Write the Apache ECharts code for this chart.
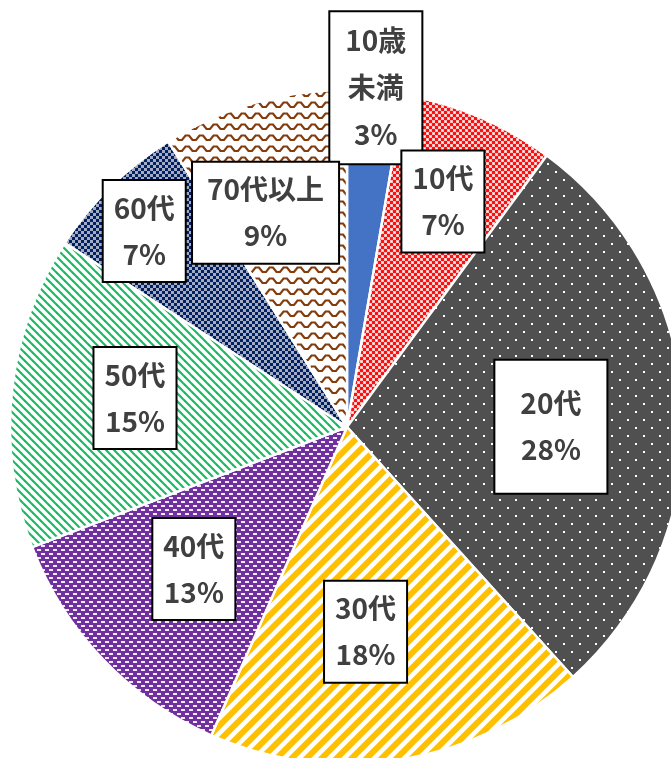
<!DOCTYPE html>
<html><head><meta charset="utf-8">
<script src="https://cdn.jsdelivr.net/npm/echarts@6/dist/echarts.min.js"></script>
<style>html,body{margin:0;padding:0;background:#fff}#c{width:671px;height:758px}</style>
</head><body><div id="c"></div>
<script>
// ---- data ----
const categories = ['10歳未満','10代','20代','30代','40代','50代','60代','70代以上'];
const labelTexts = ['10歳\n未満','10代','20代','30代','40代','50代','60代','70代以上'];
const shares = [2.7, 7.4, 28.2, 18.3, 12.6, 15.0, 6.9, 8.9];

// ---- layout config ----
const CX = 347, CY = 427, R = 337;
const labelK = [1.01, 0.727, 0.605, 0.61, 0.62, 0.635, 0.837, 0.68];
const labelTurn = [0, 0, 2.8, 4, 0.7, 1.7, -1.5, -4.8];
const labelPad = [[5,15],[4,10],[20,25],[4,10],[4,10],[4,10],[4,10],[4,14]];

function tile(w, h, draw){
  const c = document.createElement('canvas'); c.width = w; c.height = h;
  const g = c.getContext('2d'); draw(g, w, h); return c;
}
function diag(g, n, up){
  const e = 4;
  for (const o of [-n, 0, n]) {
    g.beginPath();
    if (up) { g.moveTo(o - e, n + e); g.lineTo(o + n + e, -e); }
    else { g.moveTo(o - e, -e); g.lineTo(o + n + e, n + e); }
    g.stroke();
  }
}
const patterns = [
  '#4472C4',
  tile(6, 6, (g) => { g.fillStyle = '#FF1010'; g.fillRect(0,0,6,6);
    g.fillStyle = '#FFC0C0'; g.fillRect(0,0,3,3); g.fillRect(3,3,3,3);
    g.fillStyle = '#FFFFFF'; g.fillRect(1,1,1,1); g.fillRect(4,4,1,1); }),
  tile(16, 16, (g) => { g.fillStyle = '#505050'; g.fillRect(0,0,16,16);
    g.fillStyle = '#FFFFFF'; g.fillRect(3,3,2,2); g.fillRect(11,11,2,2); }),
  tile(15, 15, (g, w) => { g.fillStyle = '#FFFFFF'; g.fillRect(0,0,w,w);
    g.strokeStyle = '#FFC000'; g.lineWidth = 6; diag(g, w, true); }),
  tile(8, 8, (g) => { g.fillStyle = '#7030A0'; g.fillRect(0,0,8,8);
    g.fillStyle = '#F2EAF8'; g.fillRect(1,1,4,2); g.fillRect(5,5,3,2); g.fillRect(0,5,1,2); }),
  tile(8, 8, (g, w) => { g.fillStyle = '#FFFFFF'; g.fillRect(0,0,w,w);
    g.strokeStyle = '#1DB866'; g.lineWidth = 2.2; diag(g, w, false); }),
  tile(6, 6, (g) => { g.fillStyle = '#002060'; g.fillRect(0,0,6,6);
    g.fillStyle = '#A3ACC4'; g.fillRect(0,0,3,3); g.fillRect(3,3,3,3); }),
  tile(14, 11, (g) => { g.fillStyle = '#FFFFFF'; g.fillRect(0,0,14,11);
    g.strokeStyle = '#843C0C'; g.lineWidth = 2.2;
    g.beginPath(); g.moveTo(-3.5,8); g.lineTo(0,8); g.lineTo(3.5,3.5); g.lineTo(7,3.5); g.lineTo(10.5,8); g.lineTo(14,8); g.lineTo(17.5,3.5); g.stroke(); })
];

const data = categories.map((name, i) => ({
  name: name,
  value: shares[i],
  itemStyle: { color: typeof patterns[i] === 'string' ? patterns[i] : { image: patterns[i], repeat: 'repeat' } },
  label: { padding: labelPad[i], lineHeight: i === 0 ? 47 : 46 }
}));

const chart = echarts.init(document.getElementById('c'), null, { renderer: 'canvas' });
chart.setOption({
  animation: false,
  series: [{
    type: 'pie',
    center: [CX, CY],
    radius: [0, R],
    startAngle: 90,
    clockwise: true,
    avoidLabelOverlap: false,
    data: data,
    itemStyle: { borderColor: '#FFFFFF', borderWidth: 2.5 },
    label: {
      show: true,
      position: 'inside',
      formatter: (p) => labelTexts[p.dataIndex] + '\n' + Math.round(p.percent) + '%',
      fontFamily: '"Noto Sans CJK JP", sans-serif',
      fontWeight: 'bold',
      fontSize: 28,
      color: '#404040',
      backgroundColor: '#FFFFFF',
      borderColor: '#000000',
      borderWidth: 2,
      align: 'center'
    },
    labelLine: { show: false },
    labelLayout: function (p) {
      const i = p.dataIndex;
      const lr = p.labelRect;
      const lx = lr.x + lr.width / 2, ly = lr.y + lr.height / 2;
      const a = Math.atan2(lx - CX, -(ly - CY)) + labelTurn[i] * Math.PI / 180;
      const d = labelK[i] * R;
      const tx = CX + d * Math.sin(a), ty = CY - d * Math.cos(a);
      return { dx: tx - lx, dy: ty - ly };
    }
  }]
});
</script></body></html>
